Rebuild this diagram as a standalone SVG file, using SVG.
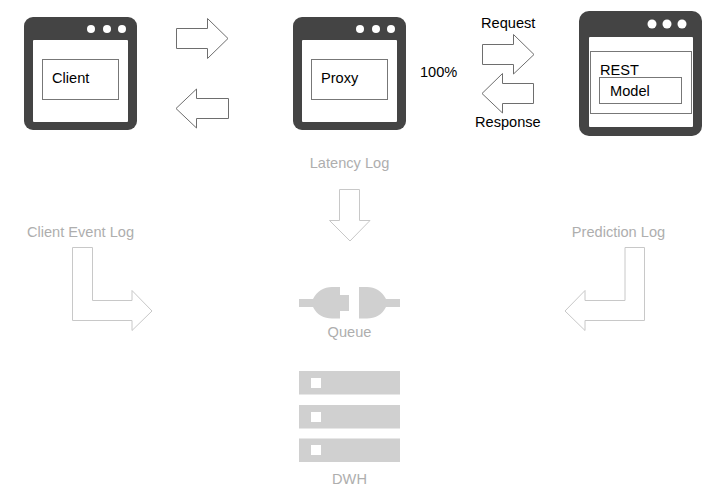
<svg xmlns="http://www.w3.org/2000/svg" width="726" height="499" viewBox="0 0 726 499">
<style>
text{font-family:"Liberation Sans",Arial,sans-serif;font-size:14.600px;fill:#000}
.win{fill:#444}
.in{fill:#fff}
.dot{fill:#fff}
.box{fill:#fff;stroke:#777;stroke-width:1}
.a{fill:#fff;stroke:#6e6e6e;stroke-width:1}
.g{fill:#fff;stroke:#c8c8c8;stroke-width:1}
text.t{fill:#aeaeae}
.ic{fill:#d0d0d0}
</style>
<rect width="726" height="499" fill="#fff"/>
<g id="client">
<rect class="win" x="24" y="17" width="113" height="113" rx="9"/>
<rect class="in" x="33" y="40" width="95" height="82" rx="1"/>
<circle class="dot" cx="91" cy="29" r="4"/><circle class="dot" cx="107" cy="29" r="4"/><circle class="dot" cx="122" cy="29" r="4"/>
<rect class="box" x="42.500" y="59.500" width="76" height="40"/>
<text x="52" y="83">Client</text>
</g>
<g id="proxy">
<rect class="win" x="293" y="17" width="113" height="113" rx="9"/>
<rect class="in" x="302" y="40" width="95" height="82" rx="1"/>
<circle class="dot" cx="360" cy="29" r="4"/><circle class="dot" cx="376" cy="29" r="4"/><circle class="dot" cx="391" cy="29" r="4"/>
<rect class="box" x="311.500" y="59.500" width="76" height="40"/>
<text x="321" y="83">Proxy</text>
</g>
<g id="rest">
<rect class="win" x="579" y="11" width="123" height="125" rx="10"/>
<rect class="in" x="589" y="37" width="104" height="90" rx="1"/>
<circle class="dot" cx="652" cy="24" r="4.500"/><circle class="dot" cx="667" cy="24" r="4.500"/><circle class="dot" cx="682" cy="24" r="4.500"/>
<rect class="box" x="590.500" y="51.500" width="101" height="62"/>
<text x="600" y="75">REST</text>
<rect class="box" x="599.500" y="77.500" width="82" height="26"/>
<text x="610" y="96">Model</text>
</g>
<g id="connectors">
<path class="a" d="M176.500 28.500H207.500V18.500L228 38.500L207.500 58.500V48.500H176.500Z"/>
<path class="a" d="M228.500 98.500H196.500V89L176 108.500L196.500 128V118.500H228.500Z"/>
<path class="a" d="M482.500 44.500H513.500V34.500L534 54.500L513.500 74V64.500H482.500Z"/>
<path class="a" d="M533.500 83.500H502.500V73.500L482 93.500L502.500 113V103.500H533.500Z"/>
<path class="g" d="M339.500 189.500H359.500V220.500H370L350 241L329.500 220.500H339.500Z"/>
<path class="g" d="M72.500 247.500H92.500V300.500H132V290.500L152 311L132 330.500V320.500H72.500Z"/>
<path class="g" d="M644.500 247.500H625V300.500H585V290.500L565 311L585 330.500V320.500H644.500Z"/>
</g>
<g id="labels">
<text x="420" y="77">100%</text>
<text x="481" y="28">Request</text>
<text x="475" y="127">Response</text>
</g>
<g id="latency-log"><text class="t" x="349.500" y="168" text-anchor="middle">Latency Log</text></g>
<g id="client-event-log"><text class="t" x="80.500" y="237" text-anchor="middle">Client Event Log</text></g>
<g id="prediction-log"><text class="t" x="618.500" y="237" text-anchor="middle">Prediction Log</text></g>
<g id="queue">
<path class="ic" d="M299 299H313C317 291 324 287 332 287H340V295H349V311H340V318.500H332C324 318.500 317 315 313 307H299Z"/>
<path class="ic" d="M359 287H367C375 287 382 291 386 299H400V307H386C382 315 375 318.500 367 318.500H359Z"/>
<text class="t" x="349.500" y="337" text-anchor="middle">Queue</text>
</g>
<g id="dwh">
<rect class="ic" x="299" y="371" width="101" height="23.500"/><rect class="in" x="311" y="378" width="10" height="10"/>
<rect class="ic" x="299" y="405" width="101" height="23.500"/><rect class="in" x="311" y="412" width="10" height="10"/>
<rect class="ic" x="299" y="438.500" width="101" height="23.500"/><rect class="in" x="311" y="445" width="10" height="10"/>
<text class="t" x="349.500" y="484" text-anchor="middle">DWH</text>
</g>
</svg>
